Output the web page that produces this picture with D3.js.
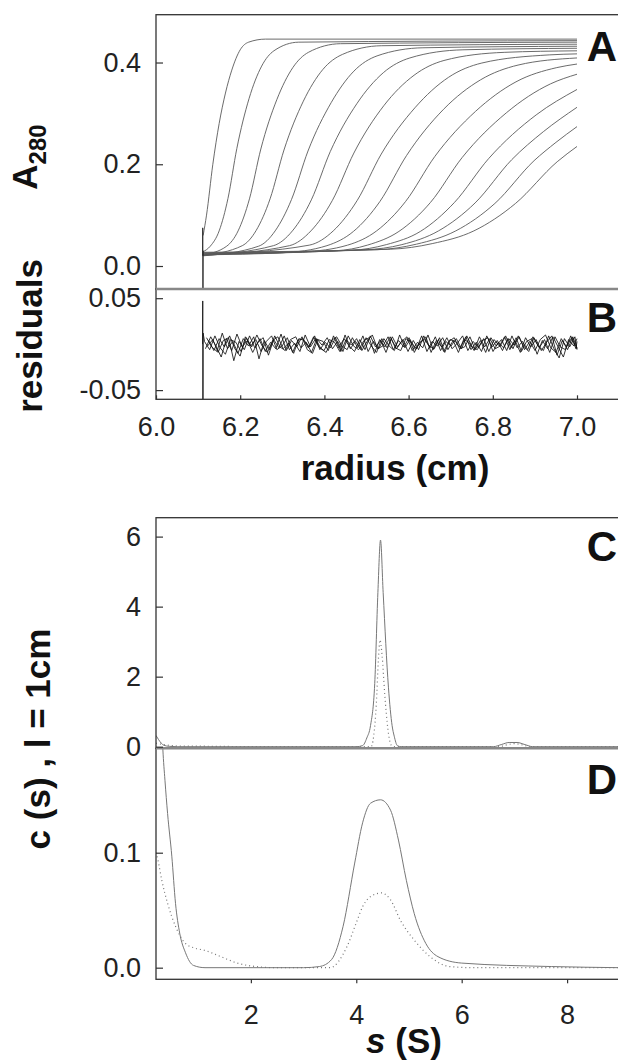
<!DOCTYPE html>
<html>
<head>
<meta charset="utf-8">
<script src="https://cdn.jsdelivr.net/npm/d3@7"></script>
<style>
body { margin: 0; background: #fff; }
svg { display: block; font-family: "Liberation Sans", Arial, sans-serif; }
</style>
</head>
<body>
<script>
// panel A: absorbance scans, [radius (cm), A280]
var scan0 = [[6.112,0.06],[6.12,0.10],[6.135,0.20],[6.15,0.28],[6.165,0.34],[6.18,0.385],[6.2,0.425],[6.22,0.44],[6.26,0.446],[7.0,0.446]];
var scan1 = [[6.112,0.028],[6.129,0.039],[6.150,0.069],[6.171,0.133],[6.192,0.231],[6.221,0.329],[6.251,0.393],[6.280,0.423],[6.339,0.440],[7.0,0.443]];
var scan2 = [[6.112,0.022],[6.168,0.039],[6.195,0.069],[6.222,0.132],[6.249,0.230],[6.287,0.327],[6.325,0.390],[6.362,0.420],[6.438,0.437],[7.0,0.440]];
var scan3 = [[6.112,0.021],[6.205,0.040],[6.238,0.070],[6.271,0.132],[6.304,0.228],[6.350,0.324],[6.396,0.386],[6.443,0.416],[6.535,0.433],[7.0,0.436]];
var scan4 = [[6.112,0.020],[6.244,0.039],[6.283,0.069],[6.322,0.131],[6.361,0.226],[6.416,0.321],[6.470,0.383],[6.525,0.413],[6.634,0.429],[7.0,0.432]];
var scan5 = [[6.112,0.021],[6.279,0.040],[6.324,0.069],[6.369,0.130],[6.414,0.225],[6.477,0.319],[6.540,0.380],[6.603,0.409],[6.729,0.425],[7.0,0.428]];
var scan6 = [[6.112,0.021],[6.317,0.040],[6.368,0.069],[6.419,0.129],[6.470,0.222],[6.541,0.315],[6.613,0.375],[6.684,0.404],[6.827,0.420],[7.0,0.423]];
var scan7 = [[6.112,0.022],[6.364,0.041],[6.421,0.069],[6.478,0.129],[6.535,0.220],[6.615,0.311],[6.695,0.371],[6.774,0.399],[6.934,0.415],[7.0,0.417]];
var scan8 = [[6.112,0.022],[6.3,0.026],[6.406,0.040],[6.469,0.068],[6.532,0.127],[6.595,0.217],[6.683,0.308],[6.771,0.366],[6.860,0.395],[7.0,0.409]];
var scan9 = [[6.112,0.023],[6.35,0.028],[6.455,0.041],[6.524,0.069],[6.593,0.127],[6.662,0.215],[6.759,0.304],[6.855,0.362],[6.952,0.390],[7.0,0.397]];
var scan10 = [[6.112,0.023],[6.427,0.030],[6.502,0.041],[6.577,0.068],[6.652,0.125],[6.727,0.213],[6.832,0.301],[6.937,0.358],[7.0,0.377]];
var scan11 = [[6.112,0.024],[6.466,0.031],[6.547,0.042],[6.628,0.068],[6.709,0.125],[6.790,0.211],[6.903,0.297],[7.0,0.347]];
var scan12 = [[6.112,0.025],[6.497,0.032],[6.584,0.042],[6.671,0.069],[6.758,0.124],[6.845,0.209],[6.920,0.264],[7.0,0.312]];
var scan13 = [[6.112,0.026],[6.526,0.032],[6.619,0.043],[6.712,0.069],[6.805,0.123],[6.898,0.207],[6.950,0.243],[7.0,0.274]];
var scan14 = [[6.112,0.027],[6.557,0.033],[6.656,0.044],[6.755,0.069],[6.854,0.123],[6.953,0.205],[7.0,0.235]];
var scans = [scan0, scan1, scan2, scan3, scan4, scan5, scan6, scan7, scan8, scan9, scan10, scan11, scan12, scan13, scan14];
var meniscusA = [[6.1105,0.02],[6.111,0.075],[6.1115,-0.06],[6.112,0.03],[6.113,0.02]];

// panel B: residuals (units of 0.001), evenly sampled from residStart to residEnd
var residStart = 6.115, residEnd = 7.0;
var resid1 = [3,-6,9,-4,-11,5,2,-8,7,-3,10,-2,-9,4,8,-5,1,-10,6,4,-3,9,-6,2,-4,7,-8,5,-1,6,-7,3,10,-5,-2,8,-6,4,-3,7,-9,2,5,-4,8,-7,3,-2,6,-5,9,-3,-6,4,7,-8,2,-4,6,-1,8,-6,3,-7,5,10,-4,-9,6,-3,7,-5];
var resid2 = [-5,8,-2,-14,6,-7,11,-3,4,-9,2,7,-12,5,-4,9,-6,1,-8,10,-3,6,-5,-9,4,8,-2,-6,7,-4,9,-8,3,-5,6,-2,-7,10,-4,5,-6,2,8,-9,4,-3,7,-5,1,9,-7,3,-4,6,-8,5,-2,8,-6,4,-9,7,-3,5,-7,2,9,-12,4,-6,8,-4];
var resid3 = [7,-3,-8,12,-5,3,-10,6,-2,8,-16,4,-6,9,-3,-7,5,8,-4,2,-9,6,-1,7,-5,3,-8,9,-2,-6,4,7,-10,5,-3,8,-4,-7,6,2,-5,9,-8,3,-2,7,-6,4,-9,5,2,-7,8,-3,6,-5,-2,9,-4,7,-8,3,6,-11,4,-5,8,-3,-14,5,-2,6];
var resid4 = [-2,5,-9,4,7,-18,3,-6,9,-4,6,-8,2,-5,11,-7,4,-3,8,-6,-10,5,3,-7,9,-4,6,-2,-8,5,-6,9,-3,4,-9,6,-5,3,8,-7,2,-4,10,-6,5,-8,3,7,-5,-3,8,-6,4,-9,7,-2,5,-7,9,-4,3,-6,8,-2,-7,9,-5,-15,6,-3,8,-6];
var resid5 = [4,-7,6,-3,9,-5,-13,8,-2,5,-8,3,9,-6,-2,7,-9,4,6,-4,8,-3,-7,5,2,-8,10,-5,3,-6,7,-2,-9,6,-4,8,-3,5,-8,4,-6,9,-2,-5,7,-9,5,3,-4,8,-6,2,-8,9,-3,4,-7,6,-5,9,-2,-8,7,-4,5,-9,8,-3,-6,9,-5,3];
var residuals = [resid1, resid2, resid3, resid4, resid5];
var meniscusB = [[6.1105,0.0],[6.111,0.047],[6.1115,-0.065],[6.112,0.012],[6.115,0.003]];

// panels C and D: c(s) distributions, [s (S), c(s)]
var cSolid = [[0.2,0.32],[0.25,0.2],[0.3,0.1],[0.35,0.04],[0.45,0.01],[0.6,0],[4.0,0],[4.12,0.03],[4.2,0.25],[4.27,0.6],[4.35,1.8],[4.41,4.4],[4.46,5.9],[4.51,4.4],[4.61,1.7],[4.68,0.6],[4.72,0.3],[4.78,0.03],[4.85,0],[6.6,0],[6.75,0.06],[6.9,0.12],[7.05,0.12],[7.2,0.06],[7.35,0],[9.0,0]];
var cDotted = [[0.2,0.1],[0.3,0.07],[0.45,0.04],[0.6,0.02],[1.0,0.015],[1.5,0.008],[2.1,0],[4.28,0],[4.33,0.3],[4.38,1.2],[4.42,2.5],[4.45,3.05],[4.49,2.6],[4.54,1.5],[4.6,0.5],[4.66,0.05],[4.72,0],[6.7,0],[6.85,0.05],[7.0,0.09],[7.15,0.05],[7.3,0],[9.0,0]];
var dSolid = [[0.2,0.45],[0.28,0.25],[0.33,0.19],[0.37,0.163],[0.42,0.134],[0.5,0.097],[0.57,0.056],[0.65,0.030],[0.76,0.013],[0.91,0.002],[1.13,0],[3.0,0],[3.3,0.001],[3.53,0.007],[3.75,0.036],[3.97,0.091],[4.12,0.126],[4.27,0.143],[4.46,0.146],[4.65,0.137],[4.8,0.111],[4.95,0.076],[5.1,0.047],[5.32,0.021],[5.55,0.0096],[6.0,0.004],[7.7,0.001],[9.0,0]];
var dDotted = [[0.2,0.1],[0.235,0.094],[0.31,0.076],[0.42,0.056],[0.57,0.036],[0.76,0.021],[0.94,0.017],[1.13,0.015],[1.43,0.0096],[1.74,0.004],[2.1,0.001],[2.5,0],[3.5,0],[3.82,0.018],[4.0,0.039],[4.12,0.053],[4.31,0.063],[4.48,0.065],[4.65,0.059],[4.84,0.041],[5.1,0.024],[5.4,0.0096],[5.77,0.001],[6.2,0],[9.0,0]];

// ticks
var radiusTicks = [6.0, 6.2, 6.4, 6.6, 6.8, 7.0];
var absTicks = [0.0, 0.2, 0.4];
var residTicks = [-0.05, 0.05];
var sTicks = [2, 4, 6, 8];
var cTicks = [0, 2, 4, 6];
var dTicks = [0.0, 0.1];

var W = 618, H = 1062;
var left = 156, right = 620;
var pA = {top: 14.7, bottom: 289}, pB = {top: 289, bottom: 399.3};
var pC = {top: 517.7, bottom: 748.3}, pD = {top: 748.3, bottom: 979.3};

var svg = d3.select("body").append("svg").attr("width", W).attr("height", H);
svg.append("rect").attr("width", W).attr("height", H).attr("fill", "#fff");

var xR = d3.scaleLinear().domain([6.0, 7.1]).range([left, 619.1]);
var yA = d3.scaleLinear().domain([-0.0452, 0.494]).range([pA.bottom, pA.top]);
var yB = d3.scaleLinear().domain([-0.06, 0.06]).range([pB.bottom, pB.top]);
var xS = d3.scaleLinear().domain([0.2, 9.0]).range([left, 619.8]);
var yC = d3.scaleLinear().domain([-0.046, 6.54]).range([pC.bottom, pC.top]);
var yD = d3.scaleLinear().domain([-0.0101, 0.1908]).range([pD.bottom, pD.top]);

var defs = svg.append("defs");
function clip(id, p) {
    defs.append("clipPath").attr("id", id).append("rect")
        .attr("x", left).attr("y", p.top).attr("width", right - left).attr("height", p.bottom - p.top);
    return svg.append("g").attr("clip-path", "url(#" + id + ")");
}

// panel A
var gA = clip("clipA", pA);
var lineA = d3.line().x(function(d) { return xR(d[0]); }).y(function(d) { return yA(d[1]); }).curve(d3.curveMonotoneX);
gA.selectAll("path.scan").data(scans).enter().append("path")
    .attr("class", "scan").attr("d", lineA)
    .attr("fill", "none").attr("stroke", "#5a5a5a").attr("stroke-width", 0.9);
gA.append("path").attr("d", d3.line().x(function(d) { return xR(d[0]); }).y(function(d) { return yA(d[1]); })(meniscusA))
    .attr("fill", "none").attr("stroke", "#333").attr("stroke-width", 1);

// panel B
var gB = clip("clipB", pB);
gB.selectAll("path.resid").data(residuals).enter().append("path")
    .attr("class", "resid")
    .attr("d", function(arr, j) {
        var step = (residEnd - residStart) / (arr.length - 1);
        return d3.line()
            .x(function(v, i) { return xR(Math.min(residEnd, residStart + j * 0.0025 + i * step)); })
            .y(function(v) { return yB(v / 1000); })(arr);
    })
    .attr("fill", "none").attr("stroke", "#111").attr("stroke-width", 0.85);
gB.append("path").attr("d", d3.line().x(function(d) { return xR(d[0]); }).y(function(d) { return yB(d[1]); })(meniscusB))
    .attr("fill", "none").attr("stroke", "#222").attr("stroke-width", 1);

// panels C, D
var gC = clip("clipC", pC);
var gD = clip("clipD", pD);
function cLine(y) {
    return d3.line().x(function(d) { return xS(d[0]); }).y(function(d) { return y(d[1]); }).curve(d3.curveMonotoneX);
}
gC.append("path").attr("d", cLine(yC)(cSolid)).attr("fill", "none").attr("stroke", "#777").attr("stroke-width", 1);
gC.append("path").attr("d", cLine(yC)(cDotted)).attr("fill", "none").attr("stroke", "#777").attr("stroke-width", 1.2).attr("stroke-dasharray", "1,3");
gD.append("path").attr("d", cLine(yD)(dSolid)).attr("fill", "none").attr("stroke", "#777").attr("stroke-width", 1);
gD.append("path").attr("d", cLine(yD)(dDotted)).attr("fill", "none").attr("stroke", "#777").attr("stroke-width", 1.2).attr("stroke-dasharray", "1,3");

// frames
[pA, pB, pC, pD].forEach(function(p) {
    svg.append("rect").attr("x", left).attr("y", p.top).attr("width", right - left).attr("height", p.bottom - p.top)
        .attr("fill", "none").attr("stroke", "#333").attr("stroke-width", 1.3);
});
[pA.bottom, pC.bottom].forEach(function(y) {
    svg.append("line").attr("x1", left).attr("x2", right).attr("y1", y).attr("y2", y)
        .attr("stroke", "#888").attr("stroke-width", 2.6);
});

// axes
function styleAxis(g) {
    g.select(".domain").remove();
    g.selectAll(".tick line").attr("stroke", "#333").attr("stroke-width", 1.2);
    g.selectAll(".tick text").attr("font-size", 27).attr("fill", "#222").attr("font-family", "Liberation Sans, Arial, sans-serif");
}
function leftAxis(y, ticks, fmt) {
    svg.append("g").attr("transform", "translate(" + left + ",0)")
        .call(d3.axisLeft(y).tickValues(ticks).tickFormat(fmt).tickSizeInner(-7).tickSizeOuter(0).tickPadding(15))
        .call(styleAxis);
}
leftAxis(yA, absTicks, function(d) { return d.toFixed(1); });
leftAxis(yB, residTicks, function(d) { return d.toFixed(2); });
leftAxis(yC, cTicks, function(d) { return d.toFixed(0); });
leftAxis(yD, dTicks, function(d) { return d.toFixed(1); });

svg.append("g").attr("transform", "translate(0," + pB.bottom + ")")
    .call(d3.axisBottom(xR).tickValues(radiusTicks).tickFormat(function(d) { return d.toFixed(1); }).tickSizeInner(-4).tickSizeOuter(0).tickPadding(18))
    .call(styleAxis);
svg.append("g").attr("transform", "translate(0," + pD.bottom + ")")
    .call(d3.axisBottom(xS).tickValues(sTicks).tickFormat(function(d) { return d.toFixed(0); }).tickSizeInner(4).tickSizeOuter(0).tickPadding(22))
    .call(styleAxis);

// titles
svg.append("text").attr("x", 395).attr("y", 480).attr("text-anchor", "middle")
    .attr("font-size", 35).attr("font-weight", "bold").attr("fill", "#111").text("radius (cm)");
var sTitle = svg.append("text").attr("x", 404).attr("y", 1053).attr("text-anchor", "middle")
    .attr("font-size", 35).attr("font-weight", "bold").attr("fill", "#111");
sTitle.append("tspan").attr("font-style", "italic").text("s");
sTitle.append("tspan").text(" (S)");

var aTitle = svg.append("text").attr("transform", "translate(37,157) rotate(-90)").attr("text-anchor", "middle")
    .attr("font-weight", "bold").attr("fill", "#111");
aTitle.append("tspan").attr("font-size", 35).text("A");
aTitle.append("tspan").attr("font-size", 24).attr("dy", 9).text("280");

svg.append("text").attr("transform", "translate(42,336) rotate(-90)").attr("text-anchor", "middle")
    .attr("font-size", 35).attr("font-weight", "bold").attr("fill", "#111").text("residuals");
svg.append("text").attr("transform", "translate(50,739) rotate(-90)").attr("text-anchor", "middle")
    .attr("font-size", 35).attr("font-weight", "bold").attr("fill", "#111").text("c (s) , l = 1cm");

// panel letters
[["A", 61], ["B", 332], ["C", 561], ["D", 794]].forEach(function(l) {
    svg.append("text").attr("x", 617).attr("y", l[1]).attr("text-anchor", "end")
        .attr("font-size", 42).attr("font-weight", "bold").attr("fill", "#111").text(l[0]);
});
</script>
</body>
</html>
